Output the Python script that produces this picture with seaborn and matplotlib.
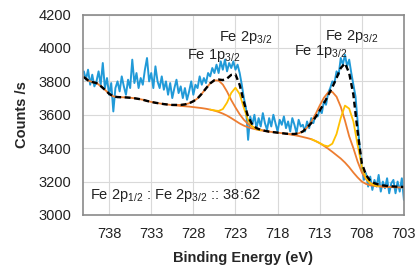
import numpy as np
import seaborn as sns
import matplotlib.pyplot as plt

# binding energy sampling (eV): raw spectrum every 0.25 eV, fitted curves every 0.5 eV
raw_energy = np.arange(741.0, 702.99, -0.25)
fit_energy = np.arange(741.0, 702.99, -0.5)

raw_counts = [
    3860, 3810, 3870, 3780, 3840, 3770, 3800, 3860,
    3780, 3910, 3760, 3820, 3720, 3790, 3620, 3760,
    3800, 3740, 3830, 3770, 3720, 3810, 3760, 3930,
    3790, 3850, 3760, 3820, 3780, 3870, 3940, 3800,
    3850, 3760, 3890, 3800, 3760, 3830, 3750, 3800,
    3720, 3790, 3700, 3760, 3810, 3730, 3770, 3700,
    3760, 3690, 3740, 3800, 3720, 3780, 3760, 3830,
    3780, 3820, 3790, 3850, 3830, 3880, 3850, 3900,
    3850, 3920, 3870, 3930, 3860, 3910, 3880, 3920,
    3870, 3900, 3850, 3780, 3700, 3640, 3450, 3590,
    3540, 3600, 3520, 3580, 3530, 3610, 3550, 3510,
    3580, 3530, 3600, 3550, 3500, 3570, 3540, 3590,
    3520, 3560, 3500, 3580, 3540, 3490, 3570, 3530,
    3540, 3500, 3560, 3520, 3580, 3550, 3600, 3590,
    3630, 3610, 3680, 3660, 3730, 3760, 3800, 3790,
    3860, 3840, 3940, 3900, 3960, 3890, 3930, 3850,
    3780, 3710, 3560, 3400, 3280, 3210, 3250, 3170,
    3230, 3150, 3210, 3170, 3240, 3140, 3200, 3160,
    3220, 3130, 3190, 3210, 3130, 3200, 3140, 3220,
    3090,
]

# Shirley background
background = [
    3826, 3806, 3796, 3790, 3772, 3750, 3726, 3710, 3706, 3705,
    3704, 3702, 3699, 3695, 3690, 3683, 3677, 3672, 3668, 3664,
    3661, 3658, 3656, 3653, 3651, 3649, 3646, 3643, 3640, 3636,
    3631, 3625, 3617, 3607, 3595, 3580, 3564, 3548, 3535, 3525,
    3518, 3512, 3507, 3503, 3499, 3496, 3493, 3490, 3486, 3482,
    3478, 3473, 3467, 3461, 3454, 3443, 3430, 3414, 3397, 3378,
    3358, 3338, 3314, 3286, 3254, 3225, 3200, 3186, 3178, 3174,
    3171, 3169, 3168, 3167, 3166, 3165, 3165,
]

# fit envelope
envelope = [
    3826, 3806, 3796, 3790, 3772, 3750, 3726, 3710, 3706, 3705,
    3704, 3702, 3699, 3695, 3690, 3683, 3677, 3672, 3668, 3664,
    3661, 3659, 3659, 3659, 3662, 3669, 3681, 3698, 3726, 3758,
    3788, 3807, 3811, 3808, 3817, 3839, 3842, 3779, 3676, 3588,
    3541, 3520, 3510, 3504, 3499, 3496, 3493, 3490, 3487, 3485,
    3485, 3489, 3500, 3523, 3550, 3585, 3625, 3668, 3716, 3765,
    3820, 3880, 3908, 3850, 3720, 3500, 3310, 3240, 3205, 3190,
    3182, 3177, 3174, 3172, 3170, 3169, 3168,
]

# fitted components (plotted on top of the background)
fe1p_a_energy = np.arange(730.0, 718.99, -0.5)
fe1p_a = [3659, 3659, 3662, 3669, 3681, 3698, 3726, 3758, 3788, 3806, 3805, 3781,
          3739, 3688, 3644, 3603, 3570, 3545, 3529, 3518, 3510, 3504, 3499]
fe2p_a_energy = np.arange(726.0, 719.99, -0.5)
fe2p_a = [3631, 3626, 3623, 3634, 3673, 3731, 3762, 3724, 3641, 3568, 3530, 3514, 3507]
fe1p_b_energy = np.arange(717.0, 704.99, -0.5)
fe1p_b = [3487, 3485, 3485, 3489, 3500, 3523, 3558, 3603, 3655, 3702, 3734, 3737, 3708,
          3648, 3565, 3471, 3400, 3320, 3255, 3215, 3192, 3180, 3174, 3170, 3168]
fe2p_b_energy = np.arange(714.0, 705.99, -0.5)
fe2p_b = [3454, 3443, 3431, 3417, 3411, 3427, 3485, 3581, 3655, 3637, 3560, 3420,
          3290, 3220, 3190, 3178, 3172]

x_ticks = [738, 733, 728, 723, 718, 713, 708, 703]
y_ticks = [3000, 3200, 3400, 3600, 3800, 4000, 4200]

sns.set_style("white")
plt.rcParams['font.family'] = ['Liberation Sans', 'DejaVu Sans']
plt.rcParams['mathtext.fontset'] = 'custom'
plt.rcParams['mathtext.rm'] = 'Liberation Sans'
plt.rcParams['mathtext.it'] = 'Liberation Sans:italic'
plt.rcParams['mathtext.bf'] = 'Liberation Sans:bold'

blue = "#219ad8"
orange = "#ed7d31"
gold = "#ffc000"

fig, ax = plt.subplots(figsize=(4.16, 2.65), dpi=100)
fig.subplots_adjust(left=0.1995, right=0.971, bottom=0.1887, top=0.945)

sns.lineplot(x=raw_energy, y=raw_counts, ax=ax, color=blue, lw=1.4, sort=False)
sns.lineplot(x=fit_energy, y=background, ax=ax, color=orange, lw=1.3, sort=False)
sns.lineplot(x=fe1p_a_energy, y=fe1p_a, ax=ax, color=orange, lw=1.3, sort=False)
sns.lineplot(x=fe1p_b_energy, y=fe1p_b, ax=ax, color=orange, lw=1.3, sort=False)
sns.lineplot(x=fe2p_a_energy, y=fe2p_a, ax=ax, color=gold, lw=1.3, sort=False)
sns.lineplot(x=fe2p_b_energy, y=fe2p_b, ax=ax, color=gold, lw=1.3, sort=False)
sns.lineplot(x=fit_energy, y=envelope, ax=ax, color="black", lw=1.7,
             linestyle=(0, (2.5, 1.5)), sort=False)

ax.set_xlim(741.1, 703)
ax.set_ylim(3000, 4200)
ax.set_xticks(x_ticks)
ax.set_yticks(y_ticks)
ax.tick_params(length=0, labelsize=10.5, pad=8.5, colors="#222222")
ax.grid(True, color="#d9d9d9", lw=0.8)
ax.set_axisbelow(True)
for s in ax.spines.values():
    s.set_color("#8a8a8a")
    s.set_linewidth(1.2)

ax.set_xlabel("Binding Energy (eV)", fontsize=10.5, fontweight="bold", labelpad=7)
ax.set_ylabel("Counts /s", fontsize=10.5, fontweight="bold", labelpad=7)

lab = dict(fontsize=10.5, color="#222222")
ax.text(728.8, 3934, r"Fe 1p$_\mathregular{3/2}$", **lab)
ax.text(724.9, 4040, r"Fe 2p$_\mathregular{3/2}$", **lab)
ax.text(716.0, 3955, r"Fe 1p$_\mathregular{3/2}$", **lab)
ax.text(712.4, 4050, r"Fe 2p$_\mathregular{3/2}$", **lab)
ax.text(740.3, 3095, r"Fe 2p$_\mathregular{1/2}$ : Fe 2p$_\mathregular{3/2}$ :: 38:62", **lab)

fig.savefig("out.png", dpi=100)
